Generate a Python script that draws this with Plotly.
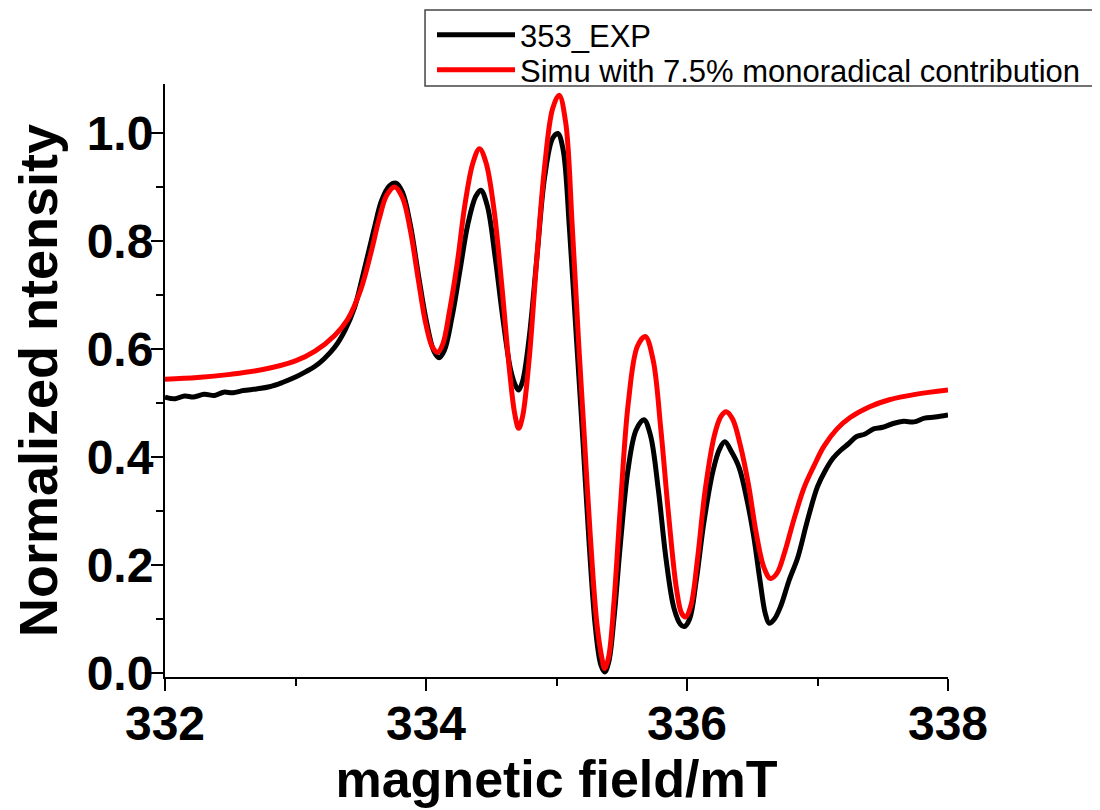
import plotly.graph_objects as go

# ---- data ----
exp_x = [332.0, 332.08, 332.15, 332.22, 332.3, 332.38, 332.45, 332.52, 332.6, 332.7, 332.8, 332.9,
         333.0, 333.08, 333.15, 333.22, 333.3, 333.38, 333.45, 333.52, 333.6, 333.66, 333.72, 333.77,
         333.82, 333.88, 333.94, 334.0, 334.06, 334.1, 334.14, 334.2, 334.26, 334.32, 334.38, 334.42,
         334.47, 334.53, 334.59, 334.65, 334.69, 334.71, 334.74, 334.79, 334.85, 334.91, 334.97, 335.01,
         335.05, 335.1, 335.15, 335.2, 335.25, 335.3, 335.34, 335.37, 335.4, 335.44, 335.49, 335.55,
         335.61, 335.67, 335.72, 335.78, 335.84, 335.9, 335.95, 335.98, 336.02, 336.07, 336.13, 336.2,
         336.25, 336.29, 336.34, 336.4, 336.46, 336.51, 336.56, 336.6, 336.63, 336.67, 336.72, 336.78,
         336.85, 336.92, 337.0, 337.06, 337.12, 337.18, 337.24, 337.3, 337.36, 337.43, 337.5, 337.58,
         337.66, 337.74, 337.82, 337.9, 338.0]
exp_y = [0.511, 0.508, 0.513, 0.511, 0.516, 0.514, 0.520, 0.519, 0.523, 0.526, 0.530, 0.538,
         0.548, 0.558, 0.568, 0.582, 0.603, 0.635, 0.675, 0.740, 0.820, 0.875, 0.902, 0.907,
         0.890, 0.830, 0.740, 0.655, 0.596, 0.584, 0.597, 0.660, 0.745, 0.830, 0.882, 0.894,
         0.865, 0.770, 0.655, 0.560, 0.530, 0.524, 0.540, 0.620, 0.770, 0.920, 0.990, 0.999,
         0.970, 0.820, 0.630, 0.440, 0.240, 0.080, 0.015, 0.002, 0.020, 0.100, 0.240, 0.380,
         0.450, 0.469, 0.440, 0.340, 0.210, 0.120, 0.090, 0.086, 0.100, 0.170, 0.280, 0.375,
         0.415, 0.428, 0.410, 0.380, 0.320, 0.255, 0.170, 0.110, 0.092, 0.100, 0.125, 0.170,
         0.215, 0.280, 0.345, 0.375, 0.398, 0.413, 0.425, 0.438, 0.442, 0.452, 0.455, 0.462,
         0.466, 0.465, 0.472, 0.474, 0.478]

sim_x = [332.0, 332.25, 332.5, 332.75, 333.0, 333.15, 333.3, 333.4, 333.5, 333.58, 333.64, 333.7,
         333.76, 333.82, 333.88, 333.94, 334.0, 334.05, 334.09, 334.13, 334.18, 334.24, 334.3, 334.36,
         334.41, 334.46, 334.52, 334.58, 334.64, 334.68, 334.71, 334.74, 334.79, 334.85, 334.91, 334.97,
         335.02, 335.07, 335.12, 335.17, 335.21, 335.26, 335.31, 335.35, 335.37, 335.4, 335.44, 335.49,
         335.55, 335.62, 335.68, 335.74, 335.8, 335.86, 335.92, 335.96, 335.99, 336.03, 336.08, 336.14,
         336.21, 336.26, 336.3, 336.35, 336.41, 336.47, 336.53, 336.59, 336.64, 336.69, 336.75, 336.82,
         336.9, 336.97, 337.05, 337.15, 337.25, 337.4, 337.55, 337.75, 338.0]
sim_y = [0.544, 0.547, 0.553, 0.562, 0.578, 0.596, 0.625, 0.655, 0.710, 0.780, 0.840, 0.885,
         0.900, 0.880, 0.820, 0.730, 0.645, 0.603, 0.594, 0.610, 0.670, 0.760, 0.870, 0.945,
         0.971, 0.945, 0.860, 0.720, 0.560, 0.480, 0.453, 0.475, 0.580, 0.770, 0.940, 1.045,
         1.070, 1.020, 0.830, 0.610, 0.450, 0.250, 0.090, 0.025, 0.008, 0.030, 0.130, 0.310,
         0.500, 0.605, 0.623, 0.580, 0.450, 0.290, 0.155, 0.110, 0.104, 0.125, 0.210, 0.340,
         0.440, 0.475, 0.484, 0.470, 0.420, 0.350, 0.260, 0.195, 0.175, 0.185, 0.225, 0.285,
         0.345, 0.382, 0.420, 0.452, 0.473, 0.493, 0.506, 0.516, 0.524]

x_ticks = [332, 334, 336, 338]
y_ticks = [0.0, 0.2, 0.4, 0.6, 0.8, 1.0]

FONT = "Arial, Liberation Sans, sans-serif"

fig = go.Figure()
fig.add_trace(go.Scatter(x=exp_x, y=exp_y, mode="lines", name="353_EXP", legend="legend",
                         line=dict(color="black", width=5, shape="spline", smoothing=1)))
fig.add_trace(go.Scatter(x=sim_x, y=sim_y, mode="lines", name="Simu with 7.5% monoradical contribution",
                         legend="legend2",
                         line=dict(color="#ff0000", width=5, shape="spline", smoothing=1)))

axis_common = dict(showline=True, linecolor="black", linewidth=2, ticks="outside",
                   tickcolor="black", tickwidth=2, ticklen=12, showgrid=False, zeroline=False,
                   tickfont=dict(family=FONT, size=48, color="black", weight="bold"),
                   mirror=False)

leg_common = dict(xanchor="left", yanchor="middle", bgcolor="rgba(0,0,0,0)", borderwidth=0,
                  font=dict(family=FONT, size=31, color="black"), itemwidth=78)

fig.update_layout(
    width=1100, height=810,
    margin=dict(l=157, r=160, t=76, b=141, autoexpand=False),
    paper_bgcolor="white", plot_bgcolor="white",
    showlegend=True,
    legend=dict(x=0.341, y=1.0826, **leg_common),
    legend2=dict(x=0.341, y=1.0236, **leg_common),
    shapes=[dict(type="rect", xref="paper", yref="paper", x0=0.3321, x1=1.1916, y0=0.9966, y1=1.1248,
                 line=dict(color="#444444", width=1.5), fillcolor="rgba(0,0,0,0)", layer="below")],
    xaxis=dict(range=[332, 338], tickvals=x_ticks, ticklabelstandoff=-9,
               minor=dict(dtick=1, tick0=332, ticks="outside", ticklen=7, tickwidth=2, tickcolor="black"),
               title=dict(text="magnetic field/mT", standoff=0,
                          font=dict(family=FONT, size=52, color="black", weight="bold")),
               **axis_common),
    yaxis=dict(range=[-0.0074, 1.0907], tickvals=y_ticks, tickformat=".1f", ticklabelstandoff=-12,
               minor=dict(dtick=0.1, tick0=0, ticks="outside", ticklen=7, tickwidth=2, tickcolor="black"),
               title=dict(text="Normalized ntensity", standoff=28,
                          font=dict(family=FONT, size=54, color="black", weight="bold")),
               **axis_common),
)

fig.write_html("out.html")
